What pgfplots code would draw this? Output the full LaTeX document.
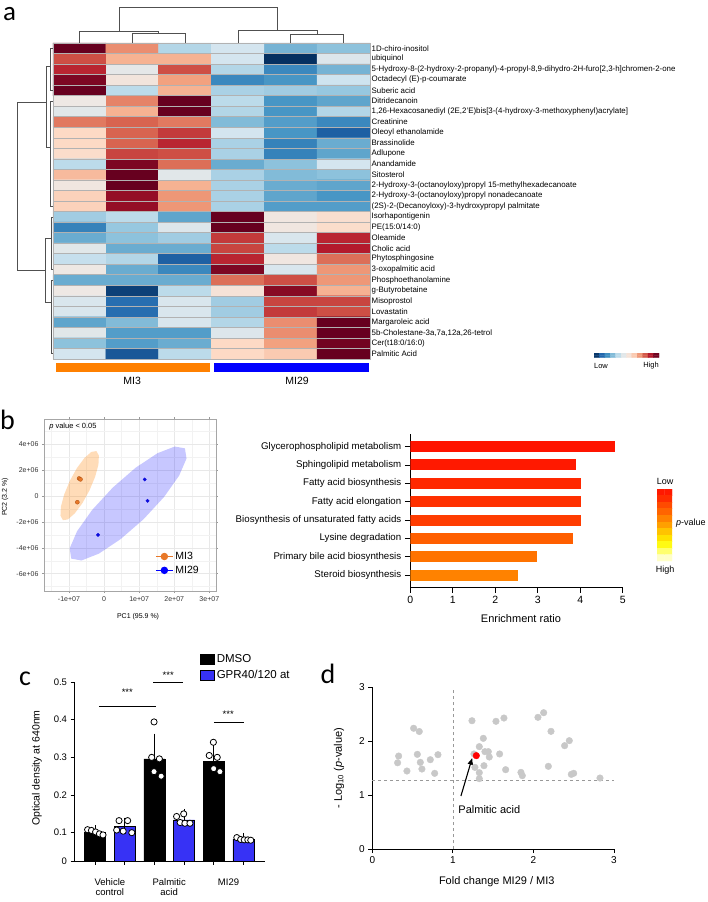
\documentclass[border=0pt]{standalone}
\usepackage{fontspec}
\setmainfont{Liberation Sans}
\newfontfamily\panelfont{Carlito}
\usepackage{pgfplots}
\pgfplotsset{compat=1.18}
\usetikzlibrary{arrows.meta}

\newcommand{\fs}[1]{\fontsize{#1}{#1}\selectfont}

\definecolor{mithree}{RGB}{255,128,0}
\definecolor{mitwentynine}{RGB}{0,0,255}
\definecolor{ptorange}{RGB}{232,120,40}
\definecolor{ptorangedk}{RGB}{180,85,20}
\definecolor{ptblue}{RGB}{10,10,220}
\definecolor{gprblue}{RGB}{55,50,245}
\definecolor{dotgray}{RGB}{200,200,200}
\definecolor{dendcol}{RGB}{80,80,80}
\definecolor{en1}{RGB}{255,20,0}
\definecolor{en2}{RGB}{255,25,0}
\definecolor{en3}{RGB}{255,40,0}
\definecolor{en4}{RGB}{255,48,0}
\definecolor{en5}{RGB}{255,60,0}
\definecolor{en6}{RGB}{255,95,0}
\definecolor{en7}{RGB}{255,115,0}
\definecolor{en8}{RGB}{255,130,0}

\pgfplotsset{
  colormap={rdbu}{rgb255=(5,48,97) rgb255=(33,102,172) rgb255=(67,147,195)
    rgb255=(146,197,222) rgb255=(209,229,240) rgb255=(238,232,228)
    rgb255=(253,219,199) rgb255=(244,165,130) rgb255=(214,96,77)
    rgb255=(178,24,43) rgb255=(103,0,31)},
  colormap={pval}{rgb255=(255,25,0) rgb255=(255,45,0) rgb255=(255,75,0)
    rgb255=(255,100,0) rgb255=(255,130,0) rgb255=(255,160,0) rgb255=(255,195,0)
    rgb255=(255,225,0) rgb255=(255,250,20) rgb255=(255,255,110) rgb255=(255,255,200)},
  every axis/.append style={/pgf/number format/assume math mode=true},
  dendro/.style={draw=dendcol, line width=0.6pt, mark=none},
}

\begin{document}
\begin{tikzpicture}
\path[use as bounding box] (0pt,0pt) rectangle (708pt,-902pt);

% ---------------- panel a: heatmap ----------------
\begin{axis}[
  at={(53pt,-43pt)}, anchor=north west, scale only axis,
  width=317pt, height=316pt,
  xmin=-0.5, xmax=5.5, ymin=-0.5, ymax=29.5, y dir=reverse,
  clip=false, axis on top,
  xtick=\empty, ytick={0,...,29}, yticklabel pos=right,
  yticklabels={1D-chiro-inositol, ubiquinol,
    {5-Hydroxy-8-(2-hydroxy-2-propanyl)-4-propyl-8,9-dihydro-2H-furo[2,3-h]chromen-2-one},
    Octadecyl (E)-p-coumarate, Suberic acid, Ditridecanoin,
    {1,26-Hexacosanediyl (2E,2'E)bis[3-(4-hydroxy-3-methoxyphenyl)acrylate]},
    Creatinine, Oleoyl ethanolamide, Brassinolide, Adlupone, Anandamide, Sitosterol,
    2-Hydroxy-3-(octanoyloxy)propyl 15-methylhexadecanoate,
    2-Hydroxy-3-(octanoyloxy)propyl nonadecanoate,
    (2S)-2-(Decanoyloxy)-3-hydroxypropyl palmitate,
    Isorhapontigenin, {PE(15:0/14:0)}, Oleamide, Cholic acid, Phytosphingosine,
    3-oxopalmitic acid, Phosphoethanolamine, g-Butyrobetaine, Misoprostol, Lovastatin,
    Margaroleic acid, {5b-Cholestane-3a,7a,12a,26-tetrol}, {Cer(t18:0/16:0)}, Palmitic Acid},
  yticklabel style={font=\fs{7.9}, inner sep=1.5pt},
  major tick length=0pt, minor tick length=0pt,
  minor xtick={0.5,1.5,2.5,3.5,4.5}, minor ytick={0.5,1.5,...,28.5},
  xminorgrids, yminorgrids, minor grid style={black!30, line width=0.5pt},
  axis line style={black!30, line width=0.5pt},
  colormap name=rdbu, point meta min=-1.7, point meta max=1.7,
]
\addplot[matrix plot*, mesh/cols=6, point meta=explicit] coordinates {
(0,0)[1.9] (1,0)[0.8] (2,0)[-0.5] (3,0)[-0.3] (4,0)[-0.8] (5,0)[-0.7]
(0,1)[1.1] (1,1)[0.6] (2,1)[0.6] (3,1)[-0.3] (4,1)[-2.2] (5,1)[-0.2]
(0,2)[1.3] (1,2)[-0.1] (2,2)[1.1] (3,2)[-0.5] (4,2)[-1.1] (5,2)[-0.8]
(0,3)[1.6] (1,3)[0.1] (2,3)[0.7] (3,3)[-1.1] (4,3)[-1.0] (5,3)[-0.35]
(0,4)[2.0] (1,4)[-0.45] (2,4)[0.6] (3,4)[-0.55] (4,4)[-0.6] (5,4)[-0.65]
(0,5)[0.0] (1,5)[0.85] (2,5)[1.7] (3,5)[-0.45] (4,5)[-1.0] (5,5)[-0.9]
(0,6)[-0.15] (1,6)[0.6] (2,6)[1.95] (3,6)[-0.5] (4,6)[-1.0] (5,6)[-0.5]
(0,7)[0.9] (1,7)[1.0] (2,7)[0.9] (3,7)[-0.75] (4,7)[-0.95] (5,7)[-1.1]
(0,8)[0.35] (1,8)[1.0] (2,8)[1.2] (3,8)[-0.3] (4,8)[-1.0] (5,8)[-1.4]
(0,9)[0.35] (1,9)[1.0] (2,9)[1.3] (3,9)[-0.55] (4,9)[-1.15] (5,9)[-0.85]
(0,10)[0.3] (1,10)[1.15] (2,10)[1.1] (3,10)[-0.55] (4,10)[-1.15] (5,10)[-0.9]
(0,11)[-0.45] (1,11)[1.6] (2,11)[0.95] (3,11)[-0.85] (4,11)[-0.7] (5,11)[-0.3]
(0,12)[0.55] (1,12)[2.0] (2,12)[-0.15] (3,12)[-0.55] (4,12)[-0.75] (5,12)[-0.7]
(0,13)[0.05] (1,13)[1.9] (2,13)[0.6] (3,13)[-0.55] (4,13)[-0.85] (5,13)[-0.9]
(0,14)[0.4] (1,14)[1.5] (2,14)[0.75] (3,14)[-0.55] (4,14)[-0.9] (5,14)[-1.0]
(0,15)[0.4] (1,15)[1.5] (2,15)[0.75] (3,15)[-0.55] (4,15)[-0.95] (5,15)[-0.95]
(0,16)[-0.6] (1,16)[-0.45] (2,16)[-0.9] (3,16)[2.0] (4,16)[0.05] (5,16)[0.25]
(0,17)[-1.15] (1,17)[-0.65] (2,17)[-0.2] (3,17)[2.0] (4,17)[0.05] (5,17)[0.3]
(0,18)[-0.85] (1,18)[-0.7] (2,18)[-0.6] (3,18)[1.2] (4,18)[-0.25] (5,18)[1.3]
(0,19)[-0.15] (1,19)[-0.85] (2,19)[-0.85] (3,19)[1.15] (4,19)[-0.45] (5,19)[1.35]
(0,20)[-0.4] (1,20)[-0.5] (2,20)[-1.4] (3,20)[1.3] (4,20)[0.05] (5,20)[0.95]
(0,21)[0.0] (1,21)[-0.85] (2,21)[-1.1] (3,21)[1.6] (4,21)[-0.25] (5,21)[0.75]
(0,22)[-0.85] (1,22)[-0.85] (2,22)[-0.85] (3,22)[0.95] (4,22)[1.1] (5,22)[0.75]
(0,23)[0.0] (1,23)[-1.6] (2,23)[-0.45] (3,23)[0.15] (4,23)[1.55] (5,23)[0.6]
(0,24)[-0.25] (1,24)[-1.3] (2,24)[-0.25] (3,24)[-0.6] (4,24)[1.15] (5,24)[1.15]
(0,25)[-0.25] (1,25)[-1.3] (2,25)[-0.25] (3,25)[-0.6] (4,25)[1.2] (5,25)[1.1]
(0,26)[-0.9] (1,26)[-0.75] (2,26)[-0.25] (3,26)[-0.5] (4,26)[0.8] (5,26)[1.8]
(0,27)[-0.15] (1,27)[-0.95] (2,27)[-0.95] (3,27)[-0.2] (4,27)[0.8] (5,27)[1.7]
(0,28)[-0.7] (1,28)[-0.95] (2,28)[-0.85] (3,28)[0.35] (4,28)[0.7] (5,28)[1.65]
(0,29)[-0.3] (1,29)[-1.45] (2,29)[-0.45] (3,29)[0.35] (4,29)[0.45] (5,29)[1.7]
};
% column dendrogram
\addplot[dendro] coordinates {(1,-0.5) (1,-1.45) (2,-1.45) (2,-0.5)};
\addplot[dendro] coordinates {(0,-0.5) (0,-1.64) (1.5,-1.64) (1.5,-1.45)};
\addplot[dendro] coordinates {(4,-0.5) (4,-1.33) (5,-1.33) (5,-0.5)};
\addplot[dendro] coordinates {(3,-0.5) (3,-1.67) (4.5,-1.67) (4.5,-1.33)};
\addplot[dendro] coordinates {(0.75,-1.64) (0.75,-3.92) (3.75,-3.92) (3.75,-1.67)};
% row dendrogram
\addplot[dendro] coordinates {(-0.633,5.13) (-1.176,5.13) (-1.176,21.06) (-0.652,21.06)};
\addplot[dendro] coordinates {(-0.548,1.68) (-0.633,1.68) (-0.633,9.38) (-0.548,9.38)};
\addplot[dendro] coordinates {(-0.535,18.02) (-0.652,18.02) (-0.652,24.1) (-0.535,24.1)};
\addplot[dendro] coordinates {(-0.5,0) (-0.548,0) (-0.548,4) (-0.5,4)};
\addplot[dendro] coordinates {(-0.5,5) (-0.548,5) (-0.548,15) (-0.5,15)};
\addplot[dendro] coordinates {(-0.5,16) (-0.535,16) (-0.535,21) (-0.5,21)};
\addplot[dendro] coordinates {(-0.5,22) (-0.535,22) (-0.535,29) (-0.5,29)};
% group bars
\addplot[fill=mithree, draw=none] coordinates {(-0.45,29.89) (2.47,29.89) (2.47,30.74) (-0.45,30.74)};
\addplot[fill=mitwentynine, draw=none] coordinates {(2.55,29.89) (5.48,29.89) (5.48,30.74) (2.55,30.74)};
\node[font=\fs{10.5}] at (axis cs:1.0,31.6) {MI3};
\node[font=\fs{10.5}] at (axis cs:4.12,31.6) {MI29};
\end{axis}

% heatmap colour key
\begin{axis}[
  at={(594pt,-353pt)}, anchor=north west, scale only axis,
  width=65pt, height=4.5pt, hide axis,
  xmin=-0.5, xmax=11.5, ymin=-0.5, ymax=1.5,
  colormap name=rdbu, point meta min=-1.7, point meta max=1.7,
]
\addplot[matrix plot*, mesh/cols=12, point meta=explicit] coordinates {
(0,0)[-1.65] (1,0)[-1.35] (2,0)[-1.05] (3,0)[-0.75] (4,0)[-0.45] (5,0)[-0.15]
(6,0)[0.15] (7,0)[0.45] (8,0)[0.75] (9,0)[1.05] (10,0)[1.35] (11,0)[1.65]
(0,1)[-1.65] (1,1)[-1.35] (2,1)[-1.05] (3,1)[-0.75] (4,1)[-0.45] (5,1)[-0.15]
(6,1)[0.15] (7,1)[0.45] (8,1)[0.75] (9,1)[1.05] (10,1)[1.35] (11,1)[1.65]
};
\end{axis}
\node[font=\fs{7.5}] at (601pt,-366pt) {Low};
\node[font=\fs{7.5}] at (651pt,-366pt) {High};

% ---------------- panel b: PCA ----------------
\begin{axis}[
  at={(44pt,-419pt)}, anchor=north west, scale only axis,
  width=172pt, height=172pt,
  xmin=-17.1, xmax=31.9, ymin=-7.34, ymax=5.97,
  xtick={-10,0,10,20,30}, xticklabels={-1e+07,0,1e+07,2e+07,3e+07},
  ytick={-6,-4,-2,0,2,4}, yticklabels={-6e+06,-4e+06,-2e+06,0,2e+06,4e+06},
  minor xtick={-15,-5,5,15,25}, minor ytick={-7,-5,-3,-1,1,3,5},
  grid=both, major grid style={black!9, line width=0.5pt},
  minor grid style={black!5, line width=0.35pt},
  axis line style={black!35, line width=0.6pt},
  tick align=outside, major tick length=2pt, minor tick length=0pt,
  tick style={black!40, line width=0.5pt},
  tick label style={font=\fs{7}, text=black!80},
  xlabel={PC1 (95.9 \%)}, ylabel={PC2 (3.2 \%)},
  label style={font=\fs{7}},
  xlabel style={at={(axis description cs:0.547,-0.149)}, anchor=center},
  ylabel style={at={(axis description cs:-0.227,0.547)}, anchor=center},
  legend style={draw=none, fill=none, at={(0.93,0.07)}, anchor=south east,
    font=\fs{10.5}, row sep=1pt},
  legend cell align=left,
]
\addplot[fill=mithree, fill opacity=0.28, draw=none, forget plot] coordinates {
(-2.18,3.49) (-1.47,3.14) (-1.59,2.44) (-2.53,1.50) (-4.14,0.45) (-6.18,-0.55)
(-8.33,-1.33) (-10.27,-1.80) (-11.70,-1.86) (-12.41,-1.51) (-12.29,-0.82)
(-11.35,0.13) (-9.75,1.18) (-7.71,2.18) (-5.56,2.96) (-3.62,3.42) (-2.18,3.49)};
\addplot[fill=mitwentynine, fill opacity=0.22, draw=none, forget plot] coordinates {
(23.05,3.70) (23.50,2.91) (21.40,1.59) (17.11,-0.06) (11.24,-1.79) (4.70,-3.33)
(-1.49,-4.45) (-6.43,-4.98) (-9.34,-4.83) (-9.78,-4.04) (-7.69,-2.72)
(-3.39,-1.07) (2.48,0.66) (9.01,2.20) (15.21,3.32) (20.14,3.84) (23.05,3.70)};
\addplot[only marks, mark=*, mark size=2pt, draw=ptorangedk, fill=ptorange, forget plot]
  coordinates {(-7.1,1.37) (-6.7,1.30) (-7.6,-0.47)};
\addplot[only marks, mark=*, mark size=1.7pt, draw=ptblue, fill=ptblue, forget plot]
  coordinates {(11.6,1.29) (12.4,-0.36) (-1.7,-3.0)};
\addlegendimage{ptorange, line width=1pt, mark=*, mark size=3.2pt, mark options={fill=ptorange}}
\addlegendentry{MI3}
\addlegendimage{mitwentynine, line width=1pt, mark=*, mark size=3.2pt, mark options={fill=mitwentynine}}
\addlegendentry{MI29}
\node[anchor=north west, font=\fs{7.5}] at (axis description cs:0.01,0.995) {\textit{p} value < 0.05};
\end{axis}

% ---------------- panel b: enrichment ----------------
\begin{axis}[
  at={(410.3pt,-434pt)}, anchor=north west, scale only axis,
  width=212.4pt, height=153.3pt,
  xbar, bar width=11pt, bar shift=0pt,
  xmin=0, xmax=5, ymin=-0.67, ymax=7.69,
  axis x line*=bottom, axis y line*=left,
  xtick={0,1,2,3,4,5}, ytick={0,...,7},
  yticklabels={Steroid biosynthesis, Primary bile acid biosynthesis, Lysine degradation,
    Biosynthesis of unsaturated fatty acids, Fatty acid elongation, Fatty acid biosynthesis,
    Sphingolipid metabolism, Glycerophospholipid metabolism},
  tick align=outside, major tick length=5.5pt,
  tick style={black, line width=0.8pt}, axis line style={line width=0.8pt},
  yticklabel style={font=\fs{9.7}},
  xticklabel style={font=\fs{10.5}},
  xlabel={Enrichment ratio},
  xlabel style={font=\fs{11}, at={(axis description cs:0.521,-0.207)}, anchor=center},
]
\addplot[fill=en1, draw=none] coordinates {(4.82,7)};
\addplot[fill=en2, draw=none] coordinates {(3.89,6)};
\addplot[fill=en3, draw=none] coordinates {(4.03,5)};
\addplot[fill=en4, draw=none] coordinates {(4.03,4)};
\addplot[fill=en5, draw=none] coordinates {(4.01,3)};
\addplot[fill=en6, draw=none] coordinates {(3.82,2)};
\addplot[fill=en7, draw=none] coordinates {(2.99,1)};
\addplot[fill=en8, draw=none] coordinates {(2.53,0)};
\end{axis}

% p-value key
\begin{axis}[
  at={(657pt,-489pt)}, anchor=north west, scale only axis,
  width=15pt, height=72pt, hide axis,
  xmin=-0.5, xmax=1.5, ymin=-0.5, ymax=10.5, y dir=reverse,
  colormap name=pval, point meta min=0, point meta max=10,
]
\addplot[matrix plot*, mesh/cols=2, point meta=explicit] coordinates {
(0,0)[0] (1,0)[0] (0,1)[1] (1,1)[1] (0,2)[2] (1,2)[2] (0,3)[3] (1,3)[3]
(0,4)[4] (1,4)[4] (0,5)[5] (1,5)[5] (0,6)[6] (1,6)[6] (0,7)[7] (1,7)[7]
(0,8)[8] (1,8)[8] (0,9)[9] (1,9)[9] (0,10)[10] (1,10)[10]
};
\end{axis}
\node[font=\fs{9}] at (665pt,-481pt) {Low};
\node[font=\fs{9}] at (665pt,-570pt) {High};
\node[font=\fs{9}, anchor=west, inner sep=0pt] at (676pt,-523pt) {\textit{p}-value};

% ---------------- panel c ----------------
\begin{axis}[
  at={(74pt,-682pt)}, anchor=north west, scale only axis,
  width=191pt, height=179.3pt,
  xmin=0.292, xmax=6.73, ymin=0.024, ymax=0.5, clip=false,
  axis x line*=bottom, axis y line*=left,
  tick align=outside, major tick length=3.5pt,
  tick style={black, line width=0.8pt}, axis line style={line width=0.8pt},
  ytick={0.024,0.1,0.2,0.3,0.4,0.5}, yticklabels={0,0.1,0.2,0.3,0.4,0.5},
  yticklabel style={font=\fs{9.5}},
  xtick={1,...,6}, xticklabels={},
  extra x ticks={1.5,3.5,5.5},
  extra x tick labels={Vehicle\\control, Palmitic\\acid, MI29},
  extra x tick style={major tick length=0pt,
    xticklabel style={align=center, font=\fs{9.5}, yshift=-14pt}},
  ylabel={Optical density at 640nm},
  ylabel style={font=\fs{10.5}, at={(axis description cs:-0.194,0.52)}, anchor=center},
  bar width=0.708, bar shift=0pt,
  legend style={draw=none, fill=none, at={(0.66,1.165)}, anchor=north west,
    font=\fs{11.5}, row sep=2pt, inner sep=0pt},
  legend cell align=left,
]
\addplot[ybar, fill=black, draw=black, line width=0.6pt, forget plot,
  error bars/.cd, y dir=plus, y explicit,
  error bar style={black, line width=0.8pt},
  error mark options={black, line width=0.8pt, mark size=5pt}]
  coordinates {(1,0.101) += (0,0.006) (3,0.296) += (0,0.054) (5,0.289) += (0,0.030)};
\addplot[ybar, fill=gprblue, draw=black, line width=0.6pt, forget plot,
  error bars/.cd, y dir=plus, y explicit,
  error bar style={black, line width=0.8pt},
  error mark options={black, line width=0.8pt, mark size=5pt}]
  coordinates {(2,0.116) += (0,0.011) (4,0.134) += (0,0.016) (6,0.083) += (0,0.003)};
\addplot[only marks, mark=*, mark size=3.1pt, mark options={fill=white, draw=black, line width=0.8pt}, forget plot]
  coordinates {(0.75,0.108) (0.88,0.106) (1.02,0.102) (1.15,0.097) (1.27,0.094)
  (1.81,0.132) (2.10,0.132) (1.73,0.107) (1.95,0.104) (2.24,0.100)
  (2.99,0.394) (2.91,0.300) (3.17,0.296) (2.99,0.262) (3.23,0.250)
  (3.75,0.143) (3.99,0.150) (3.87,0.127) (4.03,0.125) (4.20,0.125)
  (4.99,0.340) (4.85,0.305) (5.12,0.300) (5.00,0.270) (5.21,0.262)
  (5.78,0.087) (5.91,0.082) (6.03,0.081) (6.15,0.081) (6.25,0.080)};
\addplot[black, line width=0.8pt, forget plot] coordinates {(1.13,0.4363) (3.05,0.4363)};
\addplot[black, line width=0.8pt, forget plot] coordinates {(2.966,0.4992) (3.977,0.4992)};
\addplot[black, line width=0.8pt, forget plot] coordinates {(5.01,0.392) (6.02,0.392)};
\node[anchor=base, font=\fs{9.5}] at (axis cs:2.09,0.4647) {***};
\node[anchor=base, font=\fs{9.5}] at (axis cs:3.47,0.5106) {***};
\node[anchor=base, font=\fs{9.5}] at (axis cs:5.49,0.407) {***};
\addlegendimage{legend image code/.code={\fill[black] (0pt,-5pt) rectangle (14pt,5pt);}}
\addlegendentry{DMSO}
\addlegendimage{legend image code/.code={\fill[gprblue] (0pt,-5pt) rectangle (14pt,5pt); \draw[black, line width=0.5pt] (0pt,-5pt) rectangle (14pt,5pt);}}
\addlegendentry{GPR40/120 at}
\end{axis}

% ---------------- panel d ----------------
\begin{axis}[
  at={(372.3pt,-687.3pt)}, anchor=north west, scale only axis,
  width=241.7pt, height=161.7pt,
  xmin=0, xmax=3, ymin=0, ymax=3, clip=false,
  axis x line*=bottom, axis y line*=left,
  tick align=outside, major tick length=4pt,
  tick style={black, line width=0.8pt}, axis line style={line width=0.8pt},
  xtick={0,1,2,3}, ytick={0,1,2,3},
  tick label style={font=\fs{10}},
  xlabel={Fold change MI29 / MI3},
  ylabel={- Log\textsubscript{10} (\textit{p}-value)},
  label style={font=\fs{11}},
  xlabel style={at={(axis description cs:0.515,-0.202)}, anchor=center},
  ylabel style={at={(axis description cs:-0.138,0.5)}, anchor=center},
]
\addplot[black!40, dashed, line width=0.6pt] coordinates {(1,0) (1,3)};
\addplot[black!40, dashed, line width=0.6pt] coordinates {(0,1.28) (3,1.28)};
\addplot[only marks, mark=*, mark size=3.3pt, color=dotgray] coordinates {
(0.314,1.60) (0.327,1.725) (0.43,1.447) (0.513,2.24) (0.583,2.18) (0.559,1.756)
(0.596,1.608) (0.616,1.484) (0.72,1.657) (0.774,1.404) (0.815,1.75)
(1.237,2.38) (1.262,1.763) (1.274,1.515) (1.328,1.899) (1.328,1.416) (1.328,1.305)
(1.378,2.053) (1.386,1.546) (1.398,1.806) (1.44,1.806) (1.452,1.707) (1.535,2.369)
(1.58,1.763) (1.634,2.43) (1.655,1.472) (1.845,1.422) (1.862,1.361)
(2.056,2.443) (2.127,2.529) (2.185,1.534) (2.218,2.183) (2.387,1.917)
(2.445,2.01) (2.47,1.385) (2.499,1.404) (2.826,1.317)};
\addplot[only marks, mark=*, mark size=3.3pt, color=red] coordinates {(1.291,1.732)};
\addplot[black, line width=1.1pt, -{Latex[length=7pt,width=6pt]}] coordinates {(1.10,0.983) (1.241,1.695)};
\node[anchor=west, font=\fs{11}, inner sep=0pt] at (axis cs:1.067,0.724) {Palmitic acid};
\end{axis}

% panel letters
\node[anchor=base west, inner sep=0pt, font=\panelfont\fs{27}] at (3pt,-20pt) {a};
\node[anchor=base west, inner sep=0pt, font=\panelfont\fs{28}] at (0pt,-429pt) {b};
\node[anchor=base west, inner sep=0pt, font=\panelfont\fs{28}] at (19pt,-685pt) {c};
\node[anchor=base west, inner sep=0pt, font=\panelfont\fs{28}] at (320.5pt,-683pt) {d};
\end{tikzpicture}
\end{document}
